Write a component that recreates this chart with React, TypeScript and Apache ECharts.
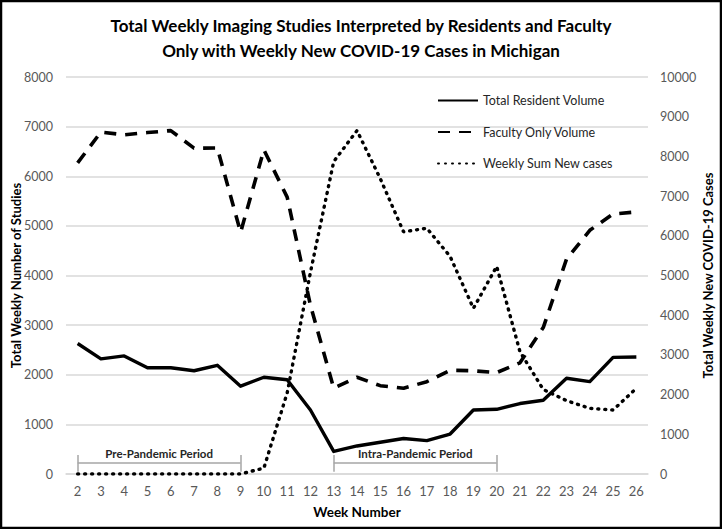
import React, { useEffect, useRef } from "react";
import * as echarts from "echarts";

const weeks = ["2","3","4","5","6","7","8","9","10","11","12","13","14","15","16","17","18","19","20","21","22","23","24","25","26"];
const residentVolume = [2630, 2320, 2380, 2140, 2140, 2080, 2190, 1770, 1950, 1900, 1290, 455, 565, 640, 715, 672, 805, 1290, 1304, 1420, 1485, 1929, 1861, 2350, 2359];
const facultyVolume = [6270, 6890, 6835, 6880, 6920, 6566, 6570, 4870, 6532, 5580, 3400, 1730, 1950, 1780, 1727, 1861, 2090, 2080, 2043, 2240, 2950, 4330, 4910, 5240, 5280];
const weeklyCases = [0, 0, 0, 0, 0, 0, 0, 0, 150, 2040, 5080, 7870, 8650, 7440, 6100, 6190, 5480, 4173, 5230, 3080, 2130, 1847, 1654, 1612, 2158];
const leftTicks = { min: 0, max: 8000, interval: 1000 };
const rightTicks = { min: 0, max: 10000, interval: 1000 };
const periods = [
  { name: "Pre-Pandemic Period", start: "2", end: "9" },
  { name: "Intra-Pandemic Period", start: "13", end: "20" },
];
const bracketLevel = 228;
const bracketTop = 383;
const bracketBottom = 46;

const FONT = "Lato, 'Noto Sans', sans-serif";

export default function App() {
  const ref = useRef<HTMLDivElement>(null);
  useEffect(() => {
    document.body.style.margin = "0";
    const chart = echarts.init(ref.current!, undefined, { renderer: "svg" });
    const markData: any[] = [];
    periods.forEach((p) => {
      markData.push([
        { coord: [p.start, bracketLevel], label: { show: true, formatter: p.name } },
        { coord: [p.end, bracketLevel] },
      ]);
      markData.push([
        { coord: [p.start, bracketTop], label: { show: false } },
        { coord: [p.start, bracketBottom] },
      ]);
      markData.push([
        { coord: [p.end, bracketTop], label: { show: false } },
        { coord: [p.end, bracketBottom] },
      ]);
    });
    const plain = (v: number) => String(v);
    chart.setOption({
      animation: false,
      textStyle: { fontFamily: FONT },
      title: {
        text: "Total Weekly Imaging Studies Interpreted by Residents and Faculty\nOnly with Weekly New COVID-19 Cases in Michigan",
        left: "center",
        top: 8,
        textStyle: { fontFamily: FONT, fontSize: 17, fontWeight: "bold", color: "#000", lineHeight: 25 },
      },
      graphic: [
        {
          type: "rect",
          shape: { x: 1, y: 1, width: 720, height: 527 },
          style: { fill: "none", stroke: "#000", lineWidth: 2.5 },
          silent: true,
        },
      ],
      legend: {
        orient: "vertical",
        left: 432,
        top: 89,
        itemWidth: 40,
        itemHeight: 14,
        itemGap: 18.5,
        itemStyle: { opacity: 0 },
        textStyle: { fontFamily: FONT, fontSize: 12.5, color: "#262626" },
        data: ["Total Resident Volume", "Faculty Only Volume", "Weekly Sum New cases"],
      },
      grid: { left: 66, right: 74, top: 77, bottom: 55, containLabel: false, outerBoundsMode: "none" },
      xAxis: {
        type: "category",
        data: weeks,
        boundaryGap: true,
        name: "Week Number",
        nameLocation: "middle",
        nameGap: 31,
        nameMoveOverlap: false,
        nameTextStyle: { fontFamily: FONT, fontSize: 13.5, fontWeight: "bold", color: "#000" },
        axisLine: { lineStyle: { color: "#d9d9d9", width: 1.5 } },
        axisTick: { show: false },
        axisLabel: { fontFamily: FONT, fontSize: 13, color: "#595959", margin: 10 },
      },
      yAxis: [
        {
          type: "value",
          ...leftTicks,
          name: "Total Weekly Number of Studies",
          nameLocation: "middle",
          nameRotate: 90,
          nameGap: 44,
          nameMoveOverlap: false,
          nameTextStyle: { fontFamily: FONT, fontSize: 13, fontWeight: "bold", color: "#000" },
          axisLine: { show: false },
          axisTick: { show: false },
          axisLabel: { fontFamily: FONT, fontSize: 12.5, color: "#595959", margin: 13, formatter: plain },
          splitLine: { lineStyle: { color: "#d9d9d9", width: 1.5 } },
        },
        {
          type: "value",
          ...rightTicks,
          name: "Total Weekly New COVID-19 Cases",
          nameLocation: "middle",
          nameRotate: 90,
          nameGap: 53,
          nameMoveOverlap: false,
          nameTextStyle: { fontFamily: FONT, fontSize: 13, fontWeight: "bold", color: "#000" },
          axisLine: { show: false },
          axisTick: { show: false },
          axisLabel: { fontFamily: FONT, fontSize: 12.5, color: "#595959", margin: 12, formatter: plain },
          splitLine: { show: false },
        },
      ],
      series: [
        {
          name: "Total Resident Volume",
          type: "line",
          data: residentVolume,
          yAxisIndex: 0,
          symbol: "none",
          lineStyle: { color: "#000", width: 3.4, type: "solid", join: "round" },
          itemStyle: { color: "#000" },
          z: 3,
          markLine: {
            silent: true,
            symbol: "none",
            lineStyle: { color: "#a6a6a6", width: 1.5, type: "solid" },
            label: {
              position: "insideMiddleTop",
              distance: 3,
              fontFamily: FONT,
              fontSize: 11.5,
              fontWeight: "bold",
              color: "#262626",
            },
            emphasis: { disabled: true },
            data: markData,
          },
        },
        {
          name: "Faculty Only Volume",
          type: "line",
          data: facultyVolume,
          yAxisIndex: 0,
          symbol: "none",
          lineStyle: { color: "#000", width: 3.6, type: [12, 9], cap: "butt" },
          itemStyle: { color: "#000" },
          z: 2,
        },
        {
          name: "Weekly Sum New cases",
          type: "line",
          data: weeklyCases,
          yAxisIndex: 1,
          symbol: "none",
          lineStyle: { color: "#000", width: 3.4, type: [1, 6], cap: "round" },
          itemStyle: { color: "#000" },
          z: 2,
        },
      ],
    });
    return () => chart.dispose();
  }, []);
  return <div ref={ref} style={{ width: 722, height: 529 }} />;
}
